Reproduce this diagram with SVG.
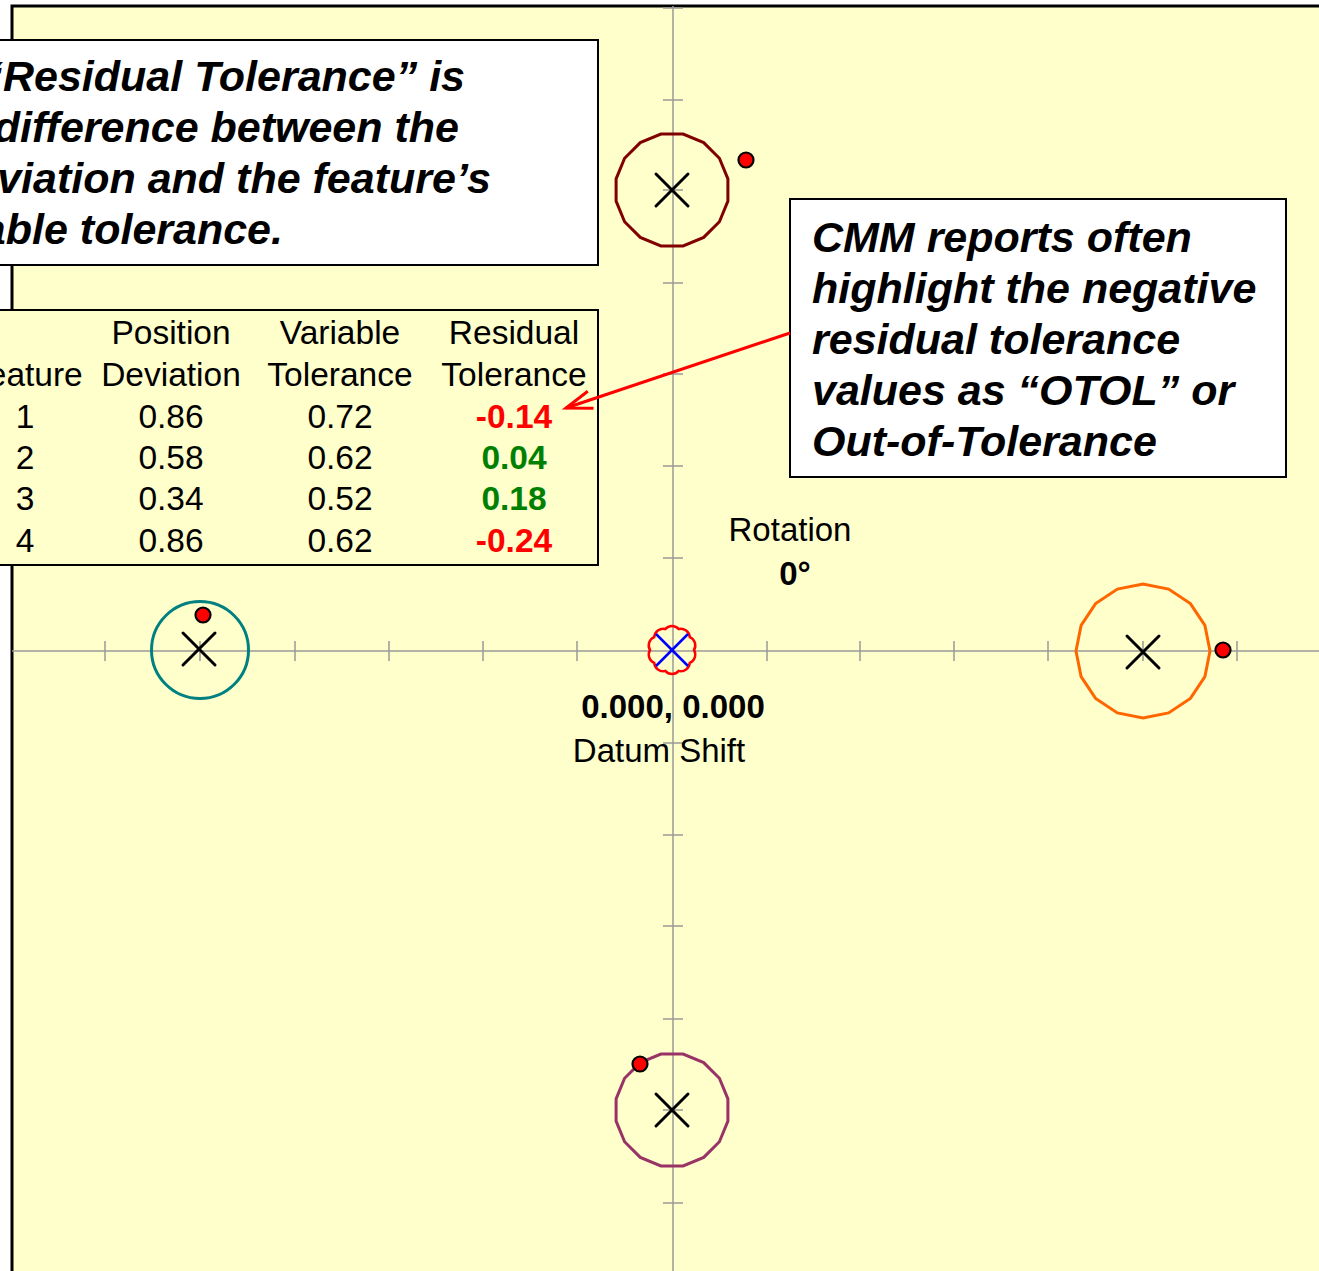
<svg xmlns="http://www.w3.org/2000/svg" width="1319" height="1271" viewBox="0 0 1319 1271">
  <style>
    .axis { stroke: #999999; stroke-width: 1.5; fill: none; }
    .tick { stroke: #999999; stroke-width: 1.5; }
    .frame { stroke: #000000; stroke-width: 3; fill: none; }
    .zone { fill: none; stroke-width: 3; }
    .cross { stroke: #000000; stroke-width: 3; stroke-linecap: round; }
    .dot { fill: #FF0000; stroke: #000000; stroke-width: 2.2; }
    .note { font-family: "Liberation Sans", Arial, sans-serif; font-size: 43px; font-weight: bold; font-style: italic; fill: #000000; }
    .cell { font-family: "Liberation Sans", Arial, sans-serif; font-size: 33.5px; fill: #000000; text-anchor: middle; }
    .neg { font-weight: bold; fill: #FF0000; }
    .pos { font-weight: bold; fill: #008000; }
    .label { font-family: "Liberation Sans", Arial, sans-serif; font-size: 33px; fill: #000000; text-anchor: middle; }
    .box { fill: #FFFFFF; stroke: #000000; stroke-width: 2; }
  </style>
  <defs>
    <!-- 16-sided tolerance zone outline, flat top -->
    <polygon id="zone16" points="55.9,11.1 47.4,31.7 31.7,47.4 11.1,55.9 -11.1,55.9 -31.7,47.4 -47.4,31.7 -55.9,11.1 -55.9,-11.1 -47.4,-31.7 -31.7,-47.4 -11.1,-55.9 11.1,-55.9 31.7,-47.4 47.4,-31.7 55.9,-11.1"/>
    <g id="xmark">
      <line x1="-16" y1="-16" x2="16" y2="16"/>
      <line x1="-16" y1="16" x2="16" y2="-16"/>
    </g>
    <marker id="arrowhead" markerUnits="userSpaceOnUse" markerWidth="40" markerHeight="30" refX="30" refY="15" orient="auto">
      <path d="M4,6 L30,15 L4,24" fill="none" stroke="#FF0000" stroke-width="3" stroke-linejoin="miter"/>
    </marker>
  </defs>

  <!-- page and plot area -->
  <rect x="0" y="0" width="1319" height="1271" fill="#FFFFFF"/>
  <rect x="12" y="6" width="1307" height="1265" fill="#FFFFCC"/>
  <path class="frame" d="M12,1271 L12,6 L1319,6"/>

  <!-- axes -->
  <g id="axes">
    <line class="axis" x1="12" y1="651" x2="1319" y2="651"/>
    <line class="axis" x1="673" y1="6" x2="673" y2="1271"/>
    <g class="tick">
      <line x1="105" y1="641" x2="105" y2="661"/>
      <line x1="200" y1="641" x2="200" y2="661"/>
      <line x1="295" y1="641" x2="295" y2="661"/>
      <line x1="389" y1="641" x2="389" y2="661"/>
      <line x1="483" y1="641" x2="483" y2="661"/>
      <line x1="577" y1="641" x2="577" y2="661"/>
      <line x1="767" y1="641" x2="767" y2="661"/>
      <line x1="860" y1="641" x2="860" y2="661"/>
      <line x1="954" y1="641" x2="954" y2="661"/>
      <line x1="1048" y1="641" x2="1048" y2="661"/>
      <line x1="1143" y1="641" x2="1143" y2="661"/>
      <line x1="1237" y1="641" x2="1237" y2="661"/>
      <line x1="663" y1="8" x2="683" y2="8"/>
      <line x1="663" y1="100" x2="683" y2="100"/>
      <line x1="663" y1="190" x2="683" y2="190"/>
      <line x1="663" y1="283" x2="683" y2="283"/>
      <line x1="663" y1="374" x2="683" y2="374"/>
      <line x1="663" y1="466" x2="683" y2="466"/>
      <line x1="663" y1="558" x2="683" y2="558"/>
      <line x1="663" y1="743" x2="683" y2="743"/>
      <line x1="663" y1="835" x2="683" y2="835"/>
      <line x1="663" y1="926" x2="683" y2="926"/>
      <line x1="663" y1="1019" x2="683" y2="1019"/>
      <line x1="663" y1="1110" x2="683" y2="1110"/>
      <line x1="663" y1="1203" x2="683" y2="1203"/>
    </g>
  </g>

  <!-- feature 1: top -->
  <g id="feature-top">
    <use href="#zone16" class="zone" stroke="#800000" transform="translate(672,190)"/>
    <use href="#xmark" class="cross" transform="translate(672,190)"/>
    <circle class="dot" cx="746" cy="160" r="7.5"/>
  </g>

  <!-- feature 2: left -->
  <g id="feature-left">
    <circle class="zone" stroke="#008080" cx="200" cy="650" r="48.5"/>
    <use href="#xmark" class="cross" transform="translate(199,649)"/>
    <circle class="dot" cx="203" cy="615" r="7.5"/>
  </g>

  <!-- feature 3: right -->
  <g id="feature-right">
    <polygon class="zone" stroke="#FF6600" points="1210,651 1204.9,676.6 1190.4,698.4 1168.6,712.9 1143,718 1117.4,712.9 1095.6,698.4 1081.1,676.6 1076,651 1081.1,625.4 1095.6,603.6 1117.4,589.1 1143,584 1168.6,589.1 1190.4,603.6 1204.9,625.4"/>
    <use href="#xmark" class="cross" transform="translate(1143,652)"/>
    <circle class="dot" cx="1223" cy="650" r="7.5"/>
  </g>

  <!-- feature 4: bottom -->
  <g id="feature-bottom">
    <use href="#zone16" class="zone" stroke="#993366" transform="translate(672,1110)"/>
    <use href="#xmark" class="cross" transform="translate(672,1110)"/>
    <circle class="dot" cx="640" cy="1064" r="7.5"/>
  </g>

  <!-- datum shift origin -->
  <g id="datum">
    <path fill="none" stroke="#FF0000" stroke-width="2.5" transform="translate(672,650)"
          d="M22,0 A9,9 0 0 1 17.8,12.9 A9,9 0 0 1 6.8,20.9 A9,9 0 0 1 -6.8,20.9 A9,9 0 0 1 -17.8,12.9 A9,9 0 0 1 -22,0 A9,9 0 0 1 -17.8,-12.9 A9,9 0 0 1 -6.8,-20.9 A9,9 0 0 1 6.8,-20.9 A9,9 0 0 1 17.8,-12.9 A9,9 0 0 1 22,0 Z"/>
    <g stroke="#0000FF" stroke-width="2.5" transform="translate(672,650)">
      <line x1="-16" y1="-16" x2="16" y2="16"/>
      <line x1="-16" y1="16" x2="16" y2="-16"/>
    </g>
    <text class="label" x="673" y="718" font-weight="bold">0.000, 0.000</text>
    <text class="label" x="659" y="762">Datum Shift</text>
  </g>

  <!-- rotation readout -->
  <g id="rotation">
    <text class="label" x="790" y="541">Rotation</text>
    <text class="label" x="795" y="585" font-weight="bold">0°</text>
  </g>

  <!-- definition note -->
  <g id="note-definition">
    <rect class="box" x="-10" y="40" width="608" height="225"/>
    <text class="note" text-anchor="end" x="465" y="91">“Residual Tolerance” is</text>
    <text class="note" text-anchor="end" x="459" y="142">difference between the</text>
    <text class="note" text-anchor="end" x="491" y="193">viation and the feature’s</text>
    <text class="note" text-anchor="end" x="283" y="244">able tolerance.</text>
  </g>

  <!-- results table -->
  <g id="table">
    <rect x="-10" y="310" width="608" height="255" fill="#FFFFCC" stroke="#000000" stroke-width="2"/>
    <text class="cell" x="171" y="344">Position</text>
    <text class="cell" x="340" y="344">Variable</text>
    <text class="cell" x="514" y="344">Residual</text>
    <text class="cell" x="25" y="386">Feature</text>
    <text class="cell" x="171" y="386">Deviation</text>
    <text class="cell" x="340" y="386">Tolerance</text>
    <text class="cell" x="514" y="386">Tolerance</text>

    <text class="cell" x="25" y="428">1</text>
    <text class="cell" x="171" y="428">0.86</text>
    <text class="cell" x="340" y="428">0.72</text>
    <text class="cell neg" x="514" y="428">-0.14</text>

    <text class="cell" x="25" y="469">2</text>
    <text class="cell" x="171" y="469">0.58</text>
    <text class="cell" x="340" y="469">0.62</text>
    <text class="cell pos" x="514" y="469">0.04</text>

    <text class="cell" x="25" y="510">3</text>
    <text class="cell" x="171" y="510">0.34</text>
    <text class="cell" x="340" y="510">0.52</text>
    <text class="cell pos" x="514" y="510">0.18</text>

    <text class="cell" x="25" y="552">4</text>
    <text class="cell" x="171" y="552">0.86</text>
    <text class="cell" x="340" y="552">0.62</text>
    <text class="cell neg" x="514" y="552">-0.24</text>
  </g>

  <!-- OTOL callout -->
  <g id="note-otol">
    <rect class="box" x="790" y="199" width="496" height="278"/>
    <text class="note" x="812" y="252">CMM reports often</text>
    <text class="note" x="812" y="303">highlight the negative</text>
    <text class="note" x="812" y="354">residual tolerance</text>
    <text class="note" x="812" y="405">values as “OTOL” or</text>
    <text class="note" x="812" y="456">Out-of-Tolerance</text>
  </g>

  <!-- connectors -->
  <g id="connectors">
    <line x1="790" y1="333" x2="566" y2="408" stroke="#FF0000" stroke-width="3" marker-end="url(#arrowhead)"/>
  </g>
</svg>
